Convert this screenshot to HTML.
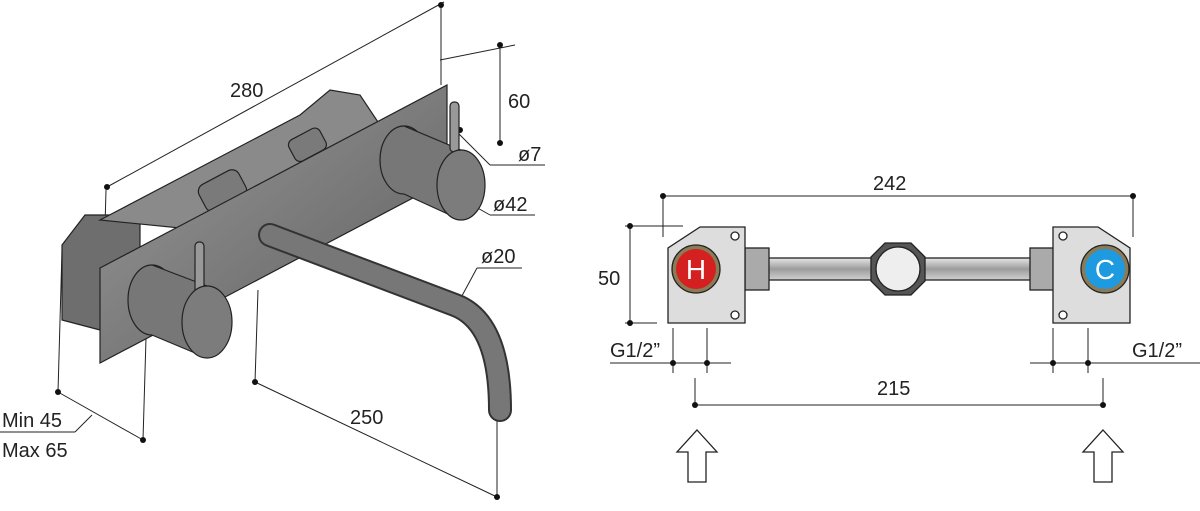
<!DOCTYPE html>
<html><head><style>
body{margin:0;background:#fff;}
svg{display:block;font-family:"Liberation Sans",sans-serif;}
</style></head><body>
<svg width="1200" height="511" viewBox="0 0 1200 511">
<defs>
<linearGradient id="m" x1="0" y1="0" x2="1" y2="1"><stop offset="0" stop-color="#9a9a9a"/><stop offset="1" stop-color="#5e5e5e"/></linearGradient>
<linearGradient id="p" x1="0" y1="0" x2="0" y2="1"><stop offset="0" stop-color="#e6e6e6"/><stop offset=".5" stop-color="#9c9c9c"/><stop offset="1" stop-color="#d0d0d0"/></linearGradient>
</defs>
<g stroke="#222" stroke-width="1" fill="none">
<line x1="107" y1="187" x2="444" y2="2"/><line x1="106" y1="190" x2="104" y2="262"/>
<line x1="441" y1="5" x2="441" y2="85"/>
<line x1="500" y1="45" x2="500" y2="143"/><line x1="440" y1="60" x2="515" y2="45"/>
<line x1="455" y1="130" x2="490" y2="165"/><line x1="490" y1="165" x2="545" y2="165"/>
<line x1="467" y1="202" x2="490" y2="215"/><line x1="490" y1="215" x2="535" y2="215"/>
<line x1="457" y1="305" x2="477" y2="268"/><line x1="477" y1="268" x2="522" y2="268"/>
<line x1="255" y1="382" x2="497" y2="497"/><line x1="258" y1="290" x2="255" y2="382"/><line x1="497" y1="415" x2="497" y2="497"/>
<line x1="58" y1="392" x2="143" y2="440"/><line x1="62" y1="250" x2="58" y2="392"/><line x1="146" y1="338" x2="143" y2="440"/>
<line x1="0" y1="432" x2="75" y2="432"/><line x1="75" y1="432" x2="92" y2="415"/>
</g>
<g fill="#111"><circle cx="107" cy="187" r="3"/><circle cx="441" cy="5" r="3"/><circle cx="500" cy="143" r="3"/><circle cx="500" cy="45" r="3"/><circle cx="460" cy="130" r="3"/><circle cx="467" cy="202" r="3"/><circle cx="457" cy="305" r="3"/><circle cx="255" cy="382" r="3"/><circle cx="497" cy="497" r="3"/><circle cx="58" cy="392" r="3"/><circle cx="143" cy="440" r="3"/></g>
<g stroke="#222" stroke-width="1.2">
<polygon points="62,245 85,215 140,215 140,330 100,330 62,320" fill="#6e6e6e"/>
<polygon points="100,220 300,115 330,90 360,95 380,125 200,230" fill="#8a8a8a"/>
<rect x="200" y="176" width="45" height="30" rx="8" fill="#7a7a7a" transform="rotate(-28 222 191)"/>
<rect x="290" y="133" width="35" height="24" rx="6" fill="#7a7a7a" transform="rotate(-28 307 145)"/>
<polygon points="100,268 447,85 447,180 100,363" fill="url(#m)"/>
<path d="M270,235 L455,305 Q500,322 500,410" stroke="#333" stroke-width="24" fill="none" stroke-linecap="round"/>
<path d="M270,235 L455,305 Q500,322 500,410" stroke="#777" stroke-width="20" fill="none" stroke-linecap="round"/>
<ellipse cx="404" cy="160" rx="24" ry="34" fill="#777"/>
<path d="M404,126 L461,150 L461,220 L404,194Z" fill="#777" stroke="none"/>
<line x1="404" y1="126" x2="461" y2="150"/><line x1="404" y1="194" x2="461" y2="220"/>
<rect x="450" y="102" width="9" height="50" rx="4" fill="#999"/>
<ellipse cx="461" cy="185" rx="24" ry="35" fill="#7c7c7c"/>
<ellipse cx="152" cy="300" rx="24" ry="35" fill="#777"/>
<path d="M152,265 L207,286 L207,358 L152,335Z" fill="#777" stroke="none"/>
<line x1="152" y1="265" x2="207" y2="286"/><line x1="152" y1="335" x2="207" y2="358"/>
<rect x="195" y="242" width="9" height="52" rx="4" fill="#999"/>
<ellipse cx="207" cy="322" rx="25" ry="36" fill="#7c7c7c"/>
</g>
<g font-size="20" fill="#222">
<text x="230" y="97">280</text><text x="508" y="108">60</text><text x="518" y="161">ø7</text><text x="493" y="211">ø42</text><text x="481" y="263">ø20</text><text x="350" y="424">250</text><text x="2" y="427">Min 45</text><text x="2" y="457">Max 65</text>
</g>
<g stroke="#222" stroke-width="1" fill="none">
<line x1="663" y1="196" x2="1133" y2="196"/><line x1="663" y1="196" x2="663" y2="237"/><line x1="1133" y1="196" x2="1133" y2="237"/>
<line x1="625" y1="226" x2="683" y2="226"/><line x1="625" y1="323" x2="657" y2="323"/><line x1="630" y1="226" x2="630" y2="323"/>
<line x1="610" y1="363" x2="731" y2="363"/><line x1="673" y1="328" x2="673" y2="373"/><line x1="707" y1="328" x2="707" y2="373"/>
<line x1="1030" y1="363" x2="1200" y2="363"/><line x1="1053" y1="328" x2="1053" y2="373"/><line x1="1088" y1="328" x2="1088" y2="373"/>
<line x1="695" y1="405" x2="1103" y2="405"/><line x1="695" y1="378" x2="695" y2="405"/><line x1="1103" y1="378" x2="1103" y2="405"/>
</g>
<g fill="#111"><circle cx="663" cy="196" r="3"/><circle cx="1133" cy="196" r="3"/><circle cx="630" cy="226" r="3"/><circle cx="630" cy="323" r="3"/><circle cx="673" cy="363" r="3"/><circle cx="707" cy="363" r="3"/><circle cx="1053" cy="363" r="3"/><circle cx="1088" cy="363" r="3"/><circle cx="695" cy="405" r="3"/><circle cx="1103" cy="405" r="3"/></g>
<g stroke="#222" stroke-width="1.3">
<rect x="745" y="258" width="308" height="22" fill="url(#p)"/>
<rect x="745" y="248" width="24" height="42" fill="#aaa"/>
<rect x="1030" y="248" width="24" height="42" fill="#aaa"/>
<polygon points="885,243 911,243 925,257 925,281 911,295 885,295 871,281 871,257" fill="#555"/>
<circle cx="898" cy="269" r="22" fill="#eee"/>
<polygon points="700,227 745,227 745,323 668,323 668,248" fill="#ddd"/>
<polygon points="1053,227 1098,227 1130,248 1130,323 1053,323" fill="#ddd"/>
<circle cx="735" cy="236" r="4" fill="#fff"/><circle cx="735" cy="315" r="4" fill="#fff"/>
<circle cx="1063" cy="236" r="4" fill="#fff"/><circle cx="1063" cy="315" r="4" fill="#fff"/>
<circle cx="696" cy="269" r="24" fill="#8a7a55"/>
<circle cx="1105" cy="269" r="24" fill="#8a7a55"/>
</g>
<circle cx="696" cy="269" r="20" fill="#d42020"/>
<circle cx="1105" cy="269" r="20" fill="#1e9be0"/>
<text x="696" y="279" font-size="28" fill="#fff" text-anchor="middle">H</text>
<text x="1105" y="279" font-size="28" fill="#fff" text-anchor="middle">C</text>
<g stroke="#222" stroke-width="1.3" fill="#fff">
<polygon points="697,430 717,452 706,452 706,482 688,482 688,452 677,452"/>
<polygon points="1103,430 1123,452 1112,452 1112,482 1094,482 1094,452 1083,452"/>
</g>
<g font-size="20" fill="#222">
<text x="873" y="190">242</text><text x="598" y="285">50</text><text x="610" y="357">G1/2”</text><text x="1132" y="357">G1/2”</text><text x="877" y="395">215</text>
</g>
</svg>
</body></html>
